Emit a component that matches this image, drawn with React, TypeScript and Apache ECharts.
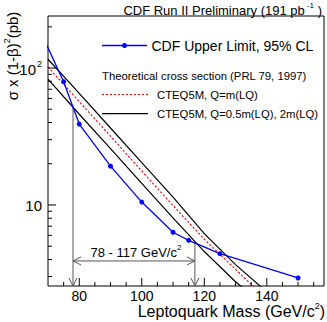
import React, { useEffect, useRef } from 'react';
import * as echarts from 'echarts';

// ---- data ----
const massLimit = [65, 75, 80, 90, 100, 110, 115, 125, 150];
const sigmaLimit = [249, 79.4, 39.0, 19.2, 10.5, 6.32, 5.52, 4.41, 2.93];

const massTheory = [70, 80, 90, 100, 110, 120, 130, 140];
const sigmaCentral = [102, 56.9, 31.8, 17.7, 9.9, 5.62, 3.39, 2.04];
const sigmaLow = [83, 46, 25.8, 14.4, 8.05, 4.57, 2.75, 1.78];
const sigmaHigh = [116, 65.3, 36.5, 20.4, 11.4, 6.17, 3.67, 2.32];

const limitMass = [78, 117];
const limitSigma = [52, 5.4];
const arrowSigma = 3.9;

const xMin = 70;
const xMax = 158.3;
const yMin = 2.56;
const yMax = 240;

const xLabelValues = [80, 100, 120, 140];
const xMajorTicks = [80, 100, 120, 140];
const xMinorTicks = [75, 85, 90, 95, 105, 110, 115, 125, 130, 135, 145, 150, 155];
const yMajorTicks = [10, 100];
const yMinorTicks = [3, 4, 5, 6, 7, 8, 9, 20, 30, 40, 50, 60, 70, 80, 90, 200];

const FONT = 'Liberation Sans, Arial, Helvetica, sans-serif';

export default function App() {
  const ref = useRef<HTMLDivElement>(null);

  useEffect(() => {
    if (!ref.current) return;
    const chart = echarts.init(ref.current, undefined, { renderer: 'svg' });

    const tickData: number[][] = [];
    xMajorTicks.forEach((v) => tickData.push([v, yMin, 8, 0]));
    xMinorTicks.forEach((v) => tickData.push([v, yMin, 4, 0]));
    yMajorTicks.forEach((v) => tickData.push([xMin, v, 8, 1]));
    yMinorTicks.forEach((v) => tickData.push([xMin, v, 4, 1]));

    const arrowColor = '#555';

    const option: any = {
      animation: false,
      textStyle: { fontFamily: FONT },
      grid: {
        left: 48,
        top: 16,
        width: 276,
        height: 270,
        show: true,
        borderColor: '#000',
        borderWidth: 1,
        backgroundColor: 'transparent',
      },
      xAxis: {
        type: 'value',
        min: xMin,
        max: xMax,
        interval: 10,
        axisLine: { show: false },
        axisTick: { show: false },
        splitLine: { show: false },
        axisLabel: {
          margin: 3,
          fontSize: 14,
          fontFamily: FONT,
          color: '#000',
          formatter: (v: number) => (xLabelValues.includes(Math.round(v)) ? String(Math.round(v)) : ''),
        },
      },
      yAxis: {
        type: 'log',
        logBase: 10,
        min: yMin,
        max: yMax,
        axisLine: { show: false },
        axisTick: { show: false },
        splitLine: { show: false },
        axisLabel: {
          margin: 6,
          fontFamily: FONT,
          color: '#000',
          formatter: (v: number) => {
            if (Math.abs(v - 100) < 1e-6) return '{b|10}{s|2}';
            if (Math.abs(v - 10) < 1e-6) return '{b|10}';
            return '';
          },
          rich: {
            b: { fontSize: 15, fontFamily: FONT, color: '#000', lineHeight: 17, verticalAlign: 'bottom' },
            s: { fontSize: 9, fontFamily: FONT, color: '#000', lineHeight: 9, verticalAlign: 'top', padding: [0, 0, 0, 1] },
          },
        },
      },
      series: [
        {
          type: 'line',
          data: massTheory.map((m, i) => [m, sigmaHigh[i]]),
          showSymbol: false,
          symbol: 'none',
          clip: true,
          lineStyle: { color: '#000', width: 1.2 },
          z: 2,
        },
        {
          type: 'line',
          data: massTheory.map((m, i) => [m, sigmaLow[i]]),
          showSymbol: false,
          symbol: 'none',
          clip: true,
          lineStyle: { color: '#000', width: 1.2 },
          z: 2,
        },
        {
          type: 'line',
          data: massTheory.map((m, i) => [m, sigmaCentral[i]]),
          showSymbol: false,
          symbol: 'none',
          clip: true,
          lineStyle: { color: '#ff0000', width: 1.2, type: [2, 2] },
          z: 2,
        },
        {
          type: 'line',
          data: massLimit.map((m, i) => [m, sigmaLimit[i]]),
          symbol: 'circle',
          symbolSize: 5,
          showAllSymbol: true,
          clip: true,
          itemStyle: { color: '#0000ff' },
          lineStyle: { color: '#0000ff', width: 1.3 },
          z: 4,
        },
        {
          type: 'custom',
          silent: true,
          z: 5,
          data: tickData,
          renderItem: (params: any, api: any) => {
            const p = api.coord([api.value(0), api.value(1)]);
            const len = api.value(2);
            const isY = api.value(3) === 1;
            return {
              type: 'line',
              shape: isY
                ? { x1: p[0], y1: p[1], x2: p[0] + len, y2: p[1] }
                : { x1: p[0], y1: p[1], x2: p[0], y2: p[1] - len },
              style: { stroke: '#000', lineWidth: 1 },
            };
          },
        },
        {
          type: 'custom',
          silent: true,
          z: 3,
          data: [[limitMass[0], limitSigma[0]]],
          renderItem: (params: any, api: any) => {
            const lowTop = api.coord([limitMass[0], limitSigma[0]]);
            const highTop = api.coord([limitMass[1], limitSigma[1]]);
            const lowBot = api.coord([limitMass[0], yMin]);
            const highBot = api.coord([limitMass[1], yMin]);
            const hl = api.coord([limitMass[0], arrowSigma]);
            const hr = api.coord([limitMass[1], arrowSigma]);
            const st = { stroke: arrowColor, lineWidth: 1, fill: 'none' };
            const hw = 4;
            const hh = 8;
            return {
              type: 'group',
              children: [
                { type: 'line', shape: { x1: lowTop[0], y1: lowTop[1], x2: lowBot[0], y2: lowBot[1] }, style: st },
                { type: 'line', shape: { x1: highTop[0], y1: highTop[1], x2: highBot[0], y2: highBot[1] }, style: st },
                { type: 'polyline', shape: { points: [[lowBot[0] - hw, lowBot[1] - hh], [lowBot[0], lowBot[1]], [lowBot[0] + hw, lowBot[1] - hh]] }, style: st },
                { type: 'polyline', shape: { points: [[highBot[0] - hw, highBot[1] - hh], [highBot[0], highBot[1]], [highBot[0] + hw, highBot[1] - hh]] }, style: st },
                { type: 'line', shape: { x1: hl[0], y1: hl[1], x2: hr[0], y2: hr[1] }, style: st },
                { type: 'polyline', shape: { points: [[hl[0] + hh, hl[1] - hw], [hl[0], hl[1]], [hl[0] + hh, hl[1] + hw]] }, style: st },
                { type: 'polyline', shape: { points: [[hr[0] - hh, hr[1] - hw], [hr[0], hr[1]], [hr[0] - hh, hr[1] + hw]] }, style: st },
                {
                  type: 'text',
                  x: (hl[0] + hr[0]) / 2 + 2,
                  y: hl[1] - 2,
                  style: {
                    text: '{a|' + limitMass[0] + ' - ' + limitMass[1] + ' GeV/c}{s|2}',
                    align: 'center',
                    textAlign: 'center',
                    verticalAlign: 'bottom',
                    textVerticalAlign: 'bottom',
                    fill: '#000',
                    rich: {
                      a: { fontSize: 13, fontFamily: FONT, fill: '#000', color: '#000', lineHeight: 15, verticalAlign: 'bottom' },
                      s: { fontSize: 8, fontFamily: FONT, fill: '#000', color: '#000', lineHeight: 8, verticalAlign: 'top' },
                    },
                  },
                },
              ],
            };
          },
        },
      ],
      graphic: [
        {
          type: 'text',
          x: 322,
          y: 9,
          style: {
            text: '{a|CDF Run II Preliminary (191 pb}{s| -1}{a| )}',
            align: 'right',
            textAlign: 'right',
            verticalAlign: 'middle',
            textVerticalAlign: 'middle',
            fill: '#000',
            rich: {
              a: { fontSize: 13, fontFamily: FONT, fill: '#000', color: '#000', lineHeight: 16, verticalAlign: 'bottom' },
              s: { fontSize: 8, fontFamily: FONT, fill: '#000', color: '#000', lineHeight: 8, verticalAlign: 'top' },
            },
          },
        },
        {
          type: 'text',
          x: 325,
          y: 310,
          style: {
            text: '{a|Leptoquark Mass (GeV/c}{s|2}{a|)}',
            align: 'right',
            textAlign: 'right',
            verticalAlign: 'middle',
            textVerticalAlign: 'middle',
            fill: '#000',
            rich: {
              a: { fontSize: 16, fontFamily: FONT, fill: '#000', color: '#000', lineHeight: 18, verticalAlign: 'bottom' },
              s: { fontSize: 9, fontFamily: FONT, fill: '#000', color: '#000', lineHeight: 9, verticalAlign: 'top' },
            },
          },
        },
        {
          type: 'text',
          x: 11,
          y: 56,
          rotation: Math.PI / 2,
          style: {
            text: '{a|σ x (1-β)}{s|2}{a|(pb)}',
            align: 'center',
            textAlign: 'center',
            verticalAlign: 'middle',
            textVerticalAlign: 'middle',
            fill: '#000',
            rich: {
              a: { fontSize: 15, fontFamily: FONT, fill: '#000', color: '#000', lineHeight: 18, verticalAlign: 'bottom' },
              s: { fontSize: 9, fontFamily: FONT, fill: '#000', color: '#000', lineHeight: 9, verticalAlign: 'top' },
            },
          },
        },
        // legend
        { type: 'line', shape: { x1: 102, y1: 45.5, x2: 147, y2: 45.5 }, style: { stroke: '#0000ff', lineWidth: 1.3 } },
        { type: 'circle', shape: { cx: 124.5, cy: 45.5, r: 2.5 }, style: { fill: '#0000ff' } },
        {
          type: 'text', x: 151.5, y: 45.5,
          style: { text: 'CDF Upper Limit, 95% CL', fontSize: 14, fontFamily: FONT, fill: '#000', align: 'left', textAlign: 'left', verticalAlign: 'middle', textVerticalAlign: 'middle' },
        },
        {
          type: 'text', x: 102, y: 76,
          style: { text: 'Theoretical cross section (PRL 79, 1997)', fontSize: 11.3, fontFamily: FONT, fill: '#000', align: 'left', textAlign: 'left', verticalAlign: 'middle', textVerticalAlign: 'middle' },
        },
        { type: 'line', shape: { x1: 102, y1: 94.5, x2: 148, y2: 94.5 }, style: { stroke: '#ff0000', lineWidth: 1.2, lineDash: [2, 2] } },
        {
          type: 'text', x: 157, y: 94.5,
          style: { text: 'CTEQ5M, Q=m(LQ)', fontSize: 11.3, fontFamily: FONT, fill: '#000', align: 'left', textAlign: 'left', verticalAlign: 'middle', textVerticalAlign: 'middle' },
        },
        { type: 'line', shape: { x1: 102, y1: 113.7, x2: 148, y2: 113.7 }, style: { stroke: '#000', lineWidth: 1.2 } },
        {
          type: 'text', x: 157, y: 114,
          style: { text: 'CTEQ5M, Q=0.5m(LQ), 2m(LQ)', fontSize: 11.3, fontFamily: FONT, fill: '#000', align: 'left', textAlign: 'left', verticalAlign: 'middle', textVerticalAlign: 'middle' },
        },
      ],
    };

    chart.setOption(option);
    return () => chart.dispose();
  }, []);

  return <div ref={ref} style={{ width: 327, height: 322, position: 'absolute', left: 0, top: 0 }} />;
}
